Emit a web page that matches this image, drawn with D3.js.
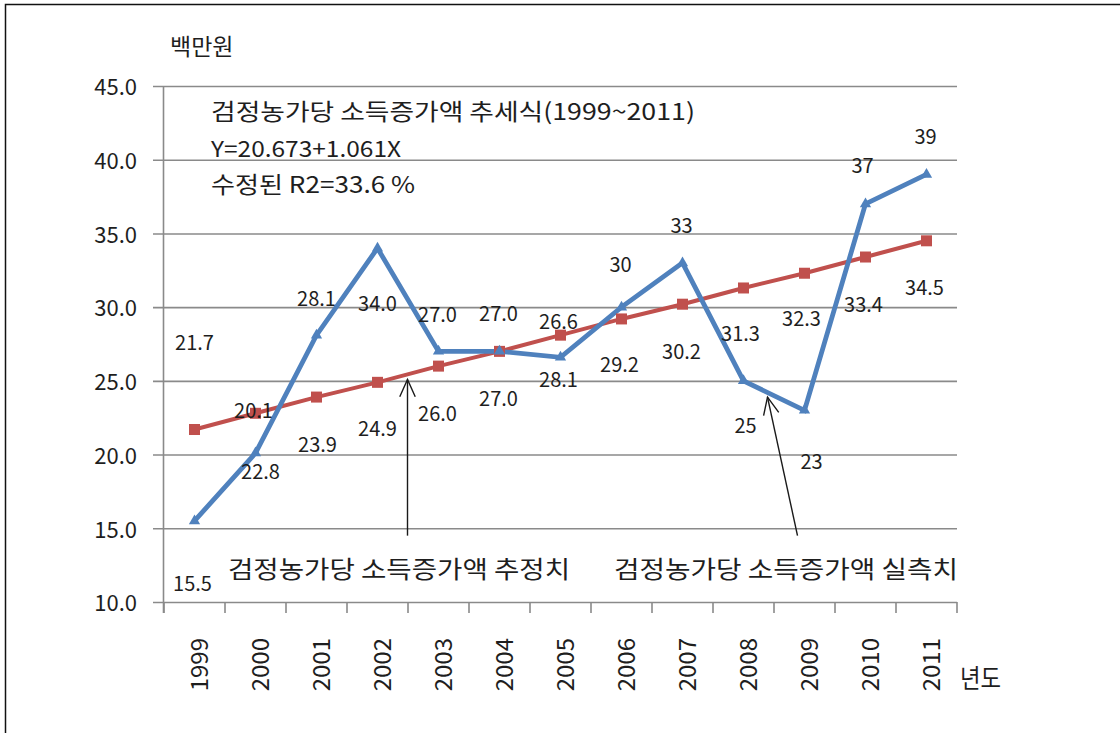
<!DOCTYPE html>
<html>
<head>
<meta charset="utf-8">
<script src="https://cdn.jsdelivr.net/npm/d3@7"></script>
<style>
  html, body { margin: 0; padding: 0; background: #ffffff; }
  svg { display: block; }
  text { font-family: "Noto Sans CJK KR", "Noto Sans", sans-serif; fill: #1e1e1e; }
</style>
</head>
<body>
<svg id="chart" width="1120" height="733"></svg>
<script>
// ---- data ----
const years = ["1999","2000","2001","2002","2003","2004","2005","2006","2007","2008","2009","2010","2011"];
const estimated = [21.7, 22.8, 23.9, 24.9, 26.0, 27.0, 28.1, 29.2, 30.2, 31.3, 32.3, 33.4, 34.5]; // 추정치 (trend)
const actual = [15.5, 20.1, 28.1, 34.0, 27.0, 27.0, 26.6, 30, 33, 25, 23, 37, 39];             // 실측치
const actualLabels = ["15.5","20.1","28.1","34.0","27.0","27.0","26.6","30","33","25","23","37","39"];
const yTicks = [10, 15, 20, 25, 30, 35, 40, 45];
const yUnit = "백만원";
const xUnit = "년도";
const trendTitle = "검정농가당 소득증가액  추세식(1999~2011)";
const trendEq = "Y=20.673+1.061X";
const trendR2 = "수정된 R2=33.6  %";
const estName = "검정농가당 소득증가액  추정치";
const actName = "검정농가당 소득증가액  실측치";

// label placement (pixel offsets, styling only)
const estLabelDy = [-88, 57, 46, 45, 46, 46, 43, 45, 46, 45, 44, 46, 46];
const estLabelDx = [0, 5, 1, 0, -1, -1, -2, -2, -1, -3, -3, -2, -2];
const actLabelDy = [62, -44, -38, 54, -38, -39, -37, -44, -38, 44, 50, -39, -39];
const actLabelDx = [-2, -2, 0, 0, -1, -1, -2, -1, -1, 2, 7, -3, -1];

// ---- layout ----
const svg = d3.select("#chart");
const pL = 164, pR = 957, pT = 86, pB = 602;
const x = d3.scaleBand().domain(years).range([pL, pR]).padding(0);
const y = d3.scaleLinear().domain([10, 45]).range([pB, pT]);
const cx = d => x(d) + x.bandwidth() / 2;

const blue = "#4F81BD", red = "#C0504D", grid = "#8a8a8a";

// frame
svg.append("rect").attr("x", 5.5).attr("y", 4.5).attr("width", 1200).attr("height", 800)
  .attr("fill", "none").attr("stroke", "#111").attr("stroke-width", 1.5);

// y axis with gridlines
const yAxis = d3.axisLeft(y).tickValues(yTicks).tickFormat(d3.format(".1f"))
  .tickSizeInner(-(pR - pL + 11)).tickSizeOuter(0).tickPadding(16);
const gy = svg.append("g").attr("transform", `translate(${pL - 11},0)`).call(yAxis);
gy.select(".domain").remove();
gy.selectAll(".tick line").attr("stroke", grid).attr("stroke-width", 1.6);
gy.selectAll(".tick text").attr("font-size", 22).attr("dy", "0.4em").style("fill", "#1e1e1e")
  .attr("font-family", "'Noto Sans CJK KR', sans-serif");

// y axis line
svg.append("line").attr("x1", pL - 0.5).attr("x2", pL - 0.5).attr("y1", pT).attr("y2", pB + 11)
  .attr("stroke", grid).attr("stroke-width", 1.6);

// x axis
const xAxis = d3.axisBottom(x).tickSize(0).tickPadding(0);
const gx = svg.append("g").attr("transform", `translate(0,${pB})`).call(xAxis);
gx.select(".domain").remove();
gx.selectAll(".tick text")
  .attr("font-size", 24)
  .attr("text-anchor", "end")
  .attr("dy", null)
  .attr("y", 0)
  .attr("transform", "translate(3,36) rotate(-90)")
  .attr("dominant-baseline", "central")
  .style("fill", "#1e1e1e")
  .attr("font-family", "'Noto Sans CJK KR', sans-serif");
// category boundary ticks
const bounds = years.map(d => x(d)).concat([x(years[years.length - 1]) + x.bandwidth()]);
svg.append("g").selectAll("line").data(bounds).join("line")
  .attr("x1", d => d).attr("x2", d => d).attr("y1", pB).attr("y2", pB + 11)
  .attr("stroke", grid).attr("stroke-width", 1.6);

// unit labels
svg.append("text").attr("x", 170).attr("y", 45).attr("dominant-baseline", "central")
  .attr("font-size", 23).text(yUnit);
svg.append("text").attr("x", 960).attr("y", 676).attr("dominant-baseline", "central")
  .attr("font-size", 26).attr("textLength", 41).attr("lengthAdjust", "spacingAndGlyphs").text(xUnit);

// lines
const lineGen = d3.line().x((d, i) => cx(years[i])).y(d => y(d));
svg.append("path").datum(estimated).attr("d", lineGen)
  .attr("fill", "none").attr("stroke", red).attr("stroke-width", 4).attr("stroke-linejoin", "round");
svg.append("path").datum(actual).attr("d", lineGen)
  .attr("fill", "none").attr("stroke", blue).attr("stroke-width", 4.8).attr("stroke-linejoin", "miter");

// markers
svg.append("g").selectAll("rect").data(estimated).join("rect")
  .attr("x", (d, i) => cx(years[i]) - 5.5).attr("y", d => y(d) - 5.5)
  .attr("width", 11).attr("height", 11).attr("fill", red);
const tri = d3.symbol().type(d3.symbolTriangle).size(55);
svg.append("g").selectAll("path").data(actual).join("path")
  .attr("d", tri).attr("transform", (d, i) => `translate(${cx(years[i])},${y(d)})`)
  .attr("fill", blue);

// data labels
svg.append("g").selectAll("text").data(estimated).join("text")
  .attr("x", (d, i) => cx(years[i]) + estLabelDx[i])
  .attr("y", (d, i) => y(d) + estLabelDy[i])
  .attr("text-anchor", "middle").attr("dominant-baseline", "central")
  .attr("font-size", 20).text(d => d.toFixed(1));
svg.append("g").selectAll("text").data(actual).join("text")
  .attr("x", (d, i) => cx(years[i]) + actLabelDx[i])
  .attr("y", (d, i) => y(d) + actLabelDy[i])
  .attr("text-anchor", "middle").attr("dominant-baseline", "central")
  .attr("font-size", 20).text((d, i) => actualLabels[i]);

// trend annotation
svg.append("text").attr("x", 211).attr("y", 110).attr("dominant-baseline", "central")
  .attr("font-size", 23).attr("textLength", 484).attr("lengthAdjust", "spacingAndGlyphs").text(trendTitle);
svg.append("text").attr("x", 211).attr("y", 147).attr("dominant-baseline", "central")
  .attr("font-size", 22).attr("textLength", 190).attr("lengthAdjust", "spacingAndGlyphs").text(trendEq);
svg.append("text").attr("x", 211).attr("y", 183).attr("dominant-baseline", "central")
  .attr("font-size", 23).attr("textLength", 204).attr("lengthAdjust", "spacingAndGlyphs").text(trendR2);

// series name annotations
svg.append("text").attr("x", 228).attr("y", 567).attr("dominant-baseline", "central")
  .attr("font-size", 24).attr("textLength", 342).attr("lengthAdjust", "spacingAndGlyphs").text(estName);
svg.append("text").attr("x", 614).attr("y", 567).attr("dominant-baseline", "central")
  .attr("font-size", 24).attr("textLength", 344).attr("lengthAdjust", "spacingAndGlyphs").text(actName);

// arrows (positions expressed in data space)
function arrow(x1, vTail, x2, vTip) {
  const y1 = y(vTail), y2 = y(vTip);
  const ang = Math.atan2(y2 - y1, x2 - x1);
  const L = 19, spread = 0.42;
  const g = svg.append("g").attr("stroke", "#1a1a1a").attr("fill", "none").attr("stroke-width", 1.4);
  g.append("line").attr("x1", x1).attr("y1", y1).attr("x2", x2).attr("y2", y2);
  g.append("polyline").attr("points", [
    [x2 - L * Math.cos(ang - spread), y2 - L * Math.sin(ang - spread)],
    [x2, y2],
    [x2 - L * Math.cos(ang + spread), y2 - L * Math.sin(ang + spread)]
  ].map(p => p.join(",")).join(" "));
}
// estimate arrow: at the 2002/2003 boundary, from below up to the trend line
arrow(x("2003") - 0.5, 14.5, x("2003") - 0.5, 25.1);
// actual arrow: from below 2009 up to the blue segment 2008-2009
arrow(cx("2009") - 7, 14.5, cx("2008") + 24, 23.9);
</script>
</body>
</html>
